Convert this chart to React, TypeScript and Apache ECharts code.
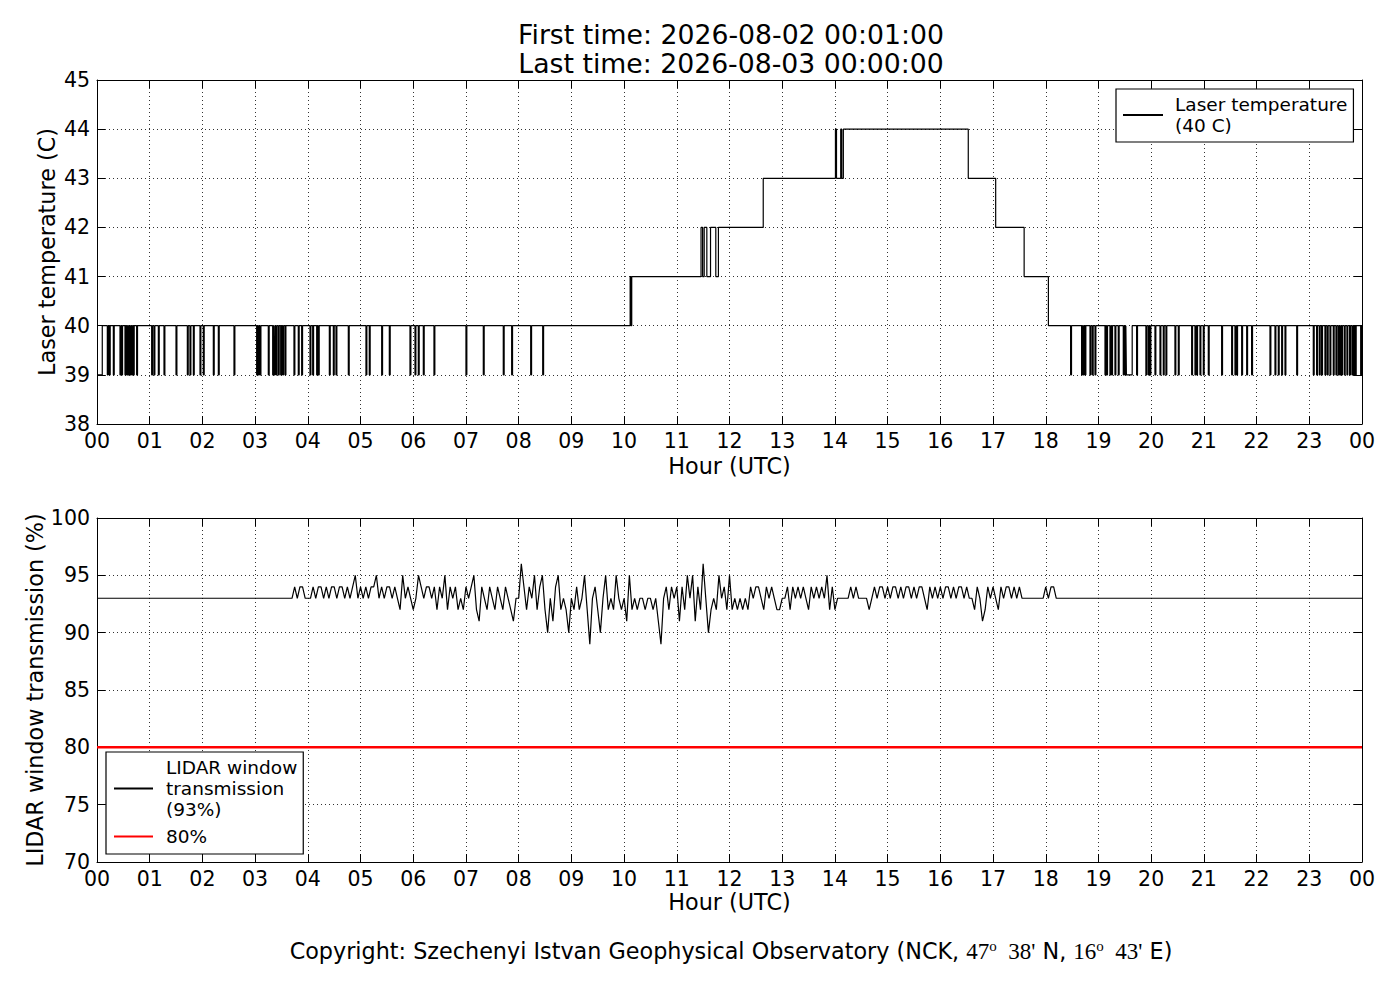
import React, { useEffect, useRef } from "react";
import * as echarts from "echarts";

// ---- tick labels ----
const hourTicks = [
  "00", "01", "02", "03", "04", "05", "06", "07", "08", "09", "10", "11",
  "12", "13", "14", "15", "16", "17", "18", "19", "20", "21", "22", "23", "00",
];

// ---- laser temperature: level changes (hour, value held from that hour) ----
const tempLevelHours = [
  0, 0.1, 10.115, 10.13, 10.145, 11.46, 11.49, 11.52, 11.57, 11.64, 11.74, 11.79,
  12.64, 14.01, 14.03, 14.11, 14.13, 14.16, 16.53, 17.05, 17.59, 18.05, 19.53, 19.64, 24,
];
const tempLevelValues = [
  39, 40, 41, 40, 41, 42, 41, 42, 41, 42, 41, 42,
  43, 44, 43, 44, 43, 44, 43, 42, 41, 40, 39, 40, 39,
];
// one-sample drops from 40 C to 39 C (hour of the drop)
const tempDipHours = [
  0.196, 0.234, 0.31, 0.436, 0.468, 0.531, 0.563, 0.594, 0.626, 0.658, 0.689, 0.752,
  1.037, 1.081, 1.164, 1.271, 1.499, 1.714, 1.764, 1.828, 1.954, 2.017, 2.207, 2.302,
  2.599, 3.029, 3.061, 3.093, 3.25, 3.333, 3.358, 3.396, 3.44, 3.485, 3.523, 3.567,
  3.737, 3.819, 3.883, 4.041, 4.092, 4.168, 4.199, 4.408, 4.484, 4.534, 4.768, 5.103,
  5.166, 5.401, 5.546, 5.938, 6.033, 6.096, 6.191, 6.393, 7.0, 7.329, 7.708, 7.867,
  8.228, 8.456,
  18.472, 18.68, 18.712, 18.744, 18.839, 18.883, 18.934, 19.124, 19.155, 19.218, 19.25,
  19.313, 19.376, 19.471, 19.503, 19.724, 19.9, 19.945, 19.977, 20.072, 20.167, 20.23,
  20.28, 20.451, 20.515, 20.768, 20.831, 20.863, 20.926, 20.989, 21.084, 21.337, 21.527,
  21.59, 21.622, 21.717, 21.812, 21.906, 22.254, 22.349, 22.412, 22.476, 22.539, 22.761,
  23.076, 23.139, 23.19, 23.234, 23.297, 23.341, 23.392, 23.455, 23.506, 23.55, 23.582,
  23.613, 23.664, 23.714, 23.765, 23.81, 23.841, 23.873, 23.975,
];
const SAMPLE_MINUTES = 1;

// ---- LIDAR window transmission (%) ----
const transBaseline = 93;
const transStartHour = 3.7; // readings every 0.05 h from here
const transStepHour = 0.05;
const transValues = [
  // 3.70 - 3.95
  93, 94, 93, 94, 94, 93,
  // 4.00 - 4.95
  93, 93, 94, 93, 94, 94, 93, 94, 93, 94, 94, 93, 94, 94, 93, 94, 93, 94, 95, 93,
  // 5.00 - 5.95
  94, 93, 94, 93, 94, 94, 95, 93, 94, 93, 94, 94, 93, 94, 93, 92, 95, 93, 94, 93,
  // 6.00 - 6.95
  92, 93, 95, 94, 93, 94, 94, 93, 94, 92, 94, 93, 95, 92, 94, 93, 94, 92, 93, 92,
  // 7.00 - 7.95
  94, 93, 94, 95, 92, 91, 94, 93, 92, 94, 93, 92, 94, 93, 92, 94, 93, 92, 91, 93,
  // 8.00 - 8.95
  93, 96, 94, 92, 94, 93, 95, 92, 94, 95, 92, 90, 93, 91, 94, 95, 92, 93, 92, 90,
  // 9.00 - 9.95
  93, 92, 94, 92, 93, 95, 92, 89, 93, 94, 92, 90, 93, 95, 92, 93, 92, 95, 93, 92,
  // 10.00 - 10.95
  93, 91, 95, 92, 93, 92, 93, 93, 92, 93, 93, 92, 93, 91, 89, 93, 94, 92, 94, 93,
  // 11.00 - 11.95
  94, 91, 94, 92, 95, 93, 95, 91, 94, 92, 96, 93, 90, 92, 93, 92, 95, 93, 94, 92,
  // 12.00 - 12.95
  95, 92, 93, 92, 93, 92, 93, 92, 94, 93, 94, 94, 93, 92, 94, 93, 94, 93, 92, 92,
  // 13.00 - 13.95
  93, 93, 94, 92, 94, 93, 94, 93, 94, 93, 92, 94, 93, 94, 93, 94, 93, 95, 92, 94,
  // 14.00 - 14.95
  92, 93, 93, 93, 93, 93, 94, 93, 94, 93, 93, 93, 93, 92, 93, 94, 93, 94, 94, 93,
  // 15.00 - 15.95
  94, 93, 94, 94, 93, 94, 93, 94, 94, 93, 94, 93, 94, 94, 93, 92, 94, 93, 94, 93,
  // 16.00 - 16.95
  94, 93, 94, 94, 93, 94, 93, 94, 94, 93, 94, 93, 93, 92, 94, 93, 91, 92, 94, 93,
  // 17.00 - 17.95
  94, 93, 92, 94, 93, 94, 94, 93, 94, 93, 94, 93, 93, 93, 93, 93, 93, 93, 93, 93,
  // 18.00 - 18.20
  94, 93, 94, 94, 93,
];
const thresholdValue = 80;

const tempName = "Laser temperature\n(40 C)";
const transName = "LIDAR window\ntransmission\n(93%)";
const thresholdName = "80%";

const FONT = "DejaVu Sans";

function buildTemp(): number[][] {
  const pts: number[][] = tempLevelHours.map((h, i) => [h, tempLevelValues[i]]);
  tempDipHours.forEach((h) => {
    pts.push([h, 39]);
    pts.push([h + SAMPLE_MINUTES / 60, 40]);
  });
  pts.sort((a, b) => a[0] - b[0]);
  return pts;
}

function buildTrans(): number[][] {
  const pts: number[][] = [[0, transBaseline]];
  transValues.forEach((v, i) => {
    pts.push([+(transStartHour + transStepHour * i).toFixed(3), v]);
  });
  pts.push([24, transBaseline]);
  return pts;
}

const black = "#000";
const gridLine = { show: true, lineStyle: { color: "#333", type: [1, 3] as any, width: 1 } };

function xAxes(gridIndex: number) {
  return [
    {
      type: "value",
      gridIndex,
      min: 0,
      max: 24,
      interval: 1,
      position: "bottom",
      axisLine: { show: true, onZero: false, lineStyle: { color: black, width: 1 } },
      axisTick: { show: true, inside: true, length: 8, lineStyle: { color: black } },
      axisLabel: {
        show: true,
        fontFamily: FONT,
        fontSize: 20.5,
        color: black,
        margin: 6,
        showMinLabel: true,
        showMaxLabel: true,
        formatter: (v: number) => hourTicks[Math.round(v)],
      },
      splitLine: gridLine,
      name: "Hour (UTC)",
      nameLocation: "middle",
      nameGap: gridIndex === 0 ? 31 : 29,
      nameTextStyle: { fontFamily: FONT, fontSize: 22.3, color: black },
    },
    {
      type: "value",
      gridIndex,
      min: 0,
      max: 24,
      interval: 1,
      position: "top",
      axisLine: { show: true, onZero: false, lineStyle: { color: black, width: 1 } },
      axisTick: { show: true, inside: true, length: 8, lineStyle: { color: black } },
      axisLabel: { show: false },
      splitLine: { show: false },
    },
  ];
}

function yAxes(gridIndex: number, min: number, max: number, interval: number, name: string, gap: number) {
  return [
    {
      type: "value",
      gridIndex,
      min,
      max,
      interval,
      position: "left",
      axisLine: { show: true, onZero: false, lineStyle: { color: black, width: 1 } },
      axisTick: { show: true, inside: true, length: 8, lineStyle: { color: black } },
      axisLabel: {
        show: true,
        fontFamily: FONT,
        fontSize: 20.5,
        color: black,
        margin: 7,
        showMinLabel: true,
        showMaxLabel: true,
      },
      splitLine: gridLine,
      name,
      nameLocation: "middle",
      nameGap: gap,
      nameRotate: 90,
      nameMoveOverlap: false,
      nameTextStyle: { fontFamily: FONT, fontSize: 22.3, color: black },
    },
    {
      type: "value",
      gridIndex,
      min,
      max,
      interval,
      position: "right",
      axisLine: { show: true, onZero: false, lineStyle: { color: black, width: 1 } },
      axisTick: { show: true, inside: true, length: 8, lineStyle: { color: black } },
      axisLabel: { show: false },
      splitLine: { show: false },
    },
  ];
}

export default function App() {
  const ref = useRef<HTMLDivElement>(null);

  useEffect(() => {
    if (!ref.current) return;
    const chart = echarts.init(ref.current, undefined, { renderer: "svg" });
    const legendCommon = {
      orient: "vertical",
      backgroundColor: "#fff",
      borderColor: black,
      borderWidth: 1.2,
      borderRadius: 0,
      itemHeight: 14,
      itemStyle: { opacity: 0, borderWidth: 0 },
    };
    const option: any = {
      animation: false,
      backgroundColor: "#fff",
      grid: [
        { left: 97, top: 80, width: 1265, height: 344 },
        { left: 97, top: 518, width: 1265, height: 344 },
      ],
      xAxis: [...xAxes(0), ...xAxes(1)],
      yAxis: [
        ...yAxes(0, 38, 45, 1, "Laser temperature (C)", 39),
        ...yAxes(1, 70, 100, 5, "LIDAR window transmission (%)", 51),
      ],
      legend: [
        {
          ...legendCommon,
          data: [tempName],
          left: 1116,
          top: 89,
          padding: [5, 6, 6, 6],
          itemWidth: 40,
          textStyle: { fontFamily: FONT, fontSize: 18.5, color: black, lineHeight: 21, padding: [0, 0, 0, 7] },
        },
        {
          ...legendCommon,
          data: [transName, thresholdName],
          left: 106,
          top: 752,
          padding: [5, 6, 7, 7],
          itemGap: 6,
          itemWidth: 39,
          textStyle: { fontFamily: FONT, fontSize: 18.5, color: black, lineHeight: 21, padding: [0, 0, 0, 8] },
        },
      ],
      graphic: [
        {
          type: "text",
          x: 731,
          y: 34,
          style: {
            text: "First time: 2026-08-02 00:01:00",
            fontFamily: FONT,
            fontSize: 26.7,
            fill: black,
            align: "center",
            verticalAlign: "middle",
          },
        },
        {
          type: "text",
          x: 731,
          y: 63,
          style: {
            text: "Last time: 2026-08-03 00:00:00",
            fontFamily: FONT,
            fontSize: 26.7,
            fill: black,
            align: "center",
            verticalAlign: "middle",
          },
        },
        {
          type: "text",
          x: 731,
          y: 951,
          style: {
            text:
              "Copyright: Szechenyi Istvan Geophysical Observatory (NCK, {m|47}{s|o}{m|  38'} N, {m|16}{s|o}{m|  43'} E)",
            fontFamily: FONT,
            fontSize: 22.3,
            fill: black,
            align: "center",
            verticalAlign: "middle",
            rich: {
              m: { fontFamily: "Liberation Serif", fontSize: 23, fill: black, lineHeight: 26 },
              s: { fontFamily: "Liberation Serif", fontSize: 15, fill: black, lineHeight: 15, verticalAlign: "top" },
            },
          },
        },
      ],
      series: [
        {
          name: tempName,
          type: "line",
          xAxisIndex: 0,
          yAxisIndex: 0,
          data: buildTemp(),
          step: "end",
          symbol: "none",
          lineStyle: { color: black, width: 1.2 },
          itemStyle: { color: black },
        },
        {
          name: transName,
          type: "line",
          xAxisIndex: 2,
          yAxisIndex: 2,
          data: buildTrans(),
          symbol: "none",
          lineStyle: { color: black, width: 1.2 },
          itemStyle: { color: black },
        },
        {
          name: thresholdName,
          type: "line",
          xAxisIndex: 2,
          yAxisIndex: 2,
          data: [
            [0, thresholdValue],
            [24, thresholdValue],
          ],
          symbol: "none",
          lineStyle: { color: "#ff0000", width: 2.5 },
          itemStyle: { color: "#ff0000" },
        },
      ],
    };
    chart.setOption(option);
    return () => chart.dispose();
  }, []);

  return (
    <div
      ref={ref}
      style={{ position: "absolute", left: 0, top: 0, width: 1400, height: 1000, background: "#fff" }}
    />
  );
}
